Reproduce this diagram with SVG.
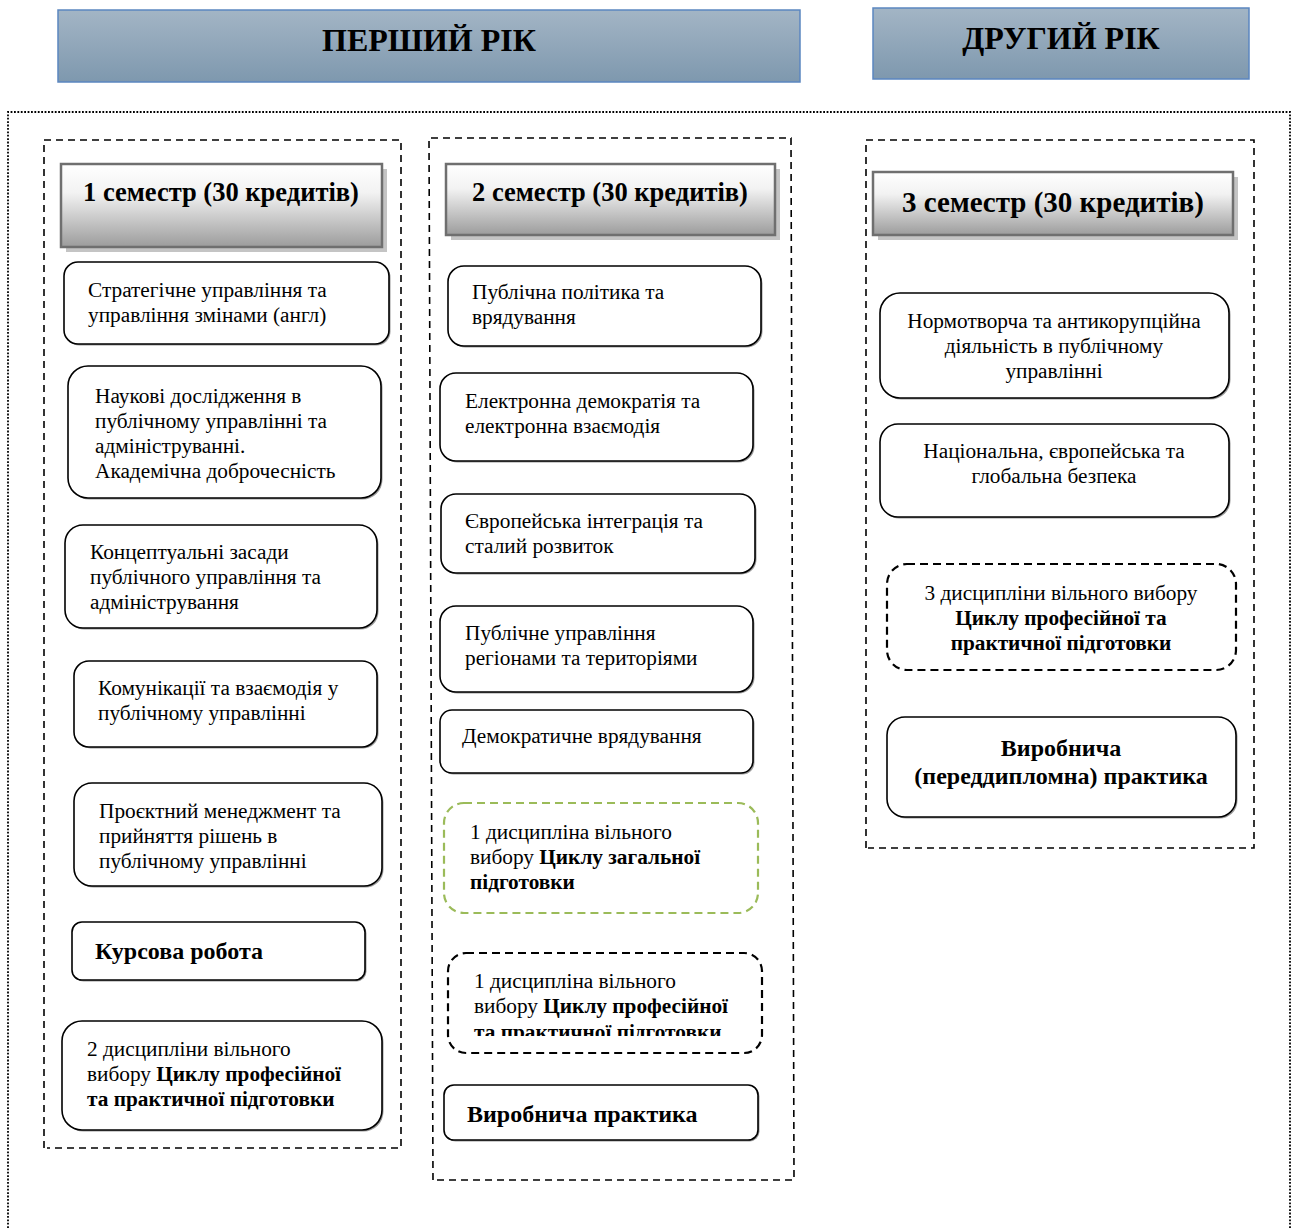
<svg xmlns="http://www.w3.org/2000/svg" width="1295" height="1228" viewBox="0 0 1295 1228">
<defs>
<linearGradient id="gYear" x1="0" y1="0" x2="0" y2="1">
<stop offset="0" stop-color="#a3b5c5"/>
<stop offset="1" stop-color="#7e98ae"/>
</linearGradient>
<linearGradient id="gSem" x1="0" y1="0" x2="0" y2="1">
<stop offset="0" stop-color="#ffffff"/>
<stop offset="0.35" stop-color="#f2f2f2"/>
<stop offset="1" stop-color="#9c9c9c"/>
</linearGradient>
<clipPath id="clipP2"><rect x="448" y="955" width="314" height="81"/></clipPath>
<style>
text{font-family:"Liberation Serif","Times New Roman",serif;fill:#000}
.year{fill:url(#gYear);stroke:#5b86c0;stroke-width:1.5}
.yt{font-size:32px;font-weight:bold;text-anchor:middle}
.sem{fill:url(#gSem);stroke:#6f6f6f;stroke-width:2.5}
.semsh{fill:#c4c4c4}
.st{font-size:26.5px;font-weight:bold;text-anchor:middle}
.outer{fill:none;stroke:#000;stroke-width:1.8;stroke-dasharray:1.8 1.6}
.cont{fill:none;stroke:#000;stroke-width:1.6;stroke-dasharray:7 5}
.box{fill:#fff;stroke:#000;stroke-width:1.6}
.bsh{fill:#9a9a9a}
.dbox{fill:#fff;stroke:#000;stroke-width:2.2;stroke-dasharray:8 5}
.gbox{fill:#fff;stroke:#9bbb59;stroke-width:2.2;stroke-dasharray:8 5}
.t{font-size:21.3px}
.c{text-anchor:middle}
.b{font-weight:bold}
.bt{font-size:24px;font-weight:bold}
</style>
</defs>

<g id="year1">
<rect class="year" x="58" y="10" width="742" height="72"/>
<text class="yt" x="429" y="51">ПЕРШИЙ РІК</text>
</g>
<g id="year2">
<rect class="year" x="873" y="8" width="376" height="71"/>
<text class="yt" x="1061" y="49">ДРУГИЙ РІК</text>
</g>

<g id="frames">
<path class="outer" d="M8 1228 V112 H1290 V1228"/>
<path class="cont" d="M44 1148 V140 H401 V1148 H47"/>
<path class="cont" d="M433 1180 L429 138 H791 L794 1180 H436"/>
<path class="cont" d="M866 848 V140 H1254 V848 H868"/>
</g>

<g id="sem1-header">
<rect class="semsh" x="66" y="169" width="321" height="83"/>
<rect class="sem" x="61" y="164" width="321" height="83"/>
<text class="st" x="221" y="201">1 семестр (30 кредитів)</text>
</g>
<g id="sem2-header">
<rect class="semsh" x="451" y="169" width="329" height="71"/>
<rect class="sem" x="446" y="164" width="329" height="71"/>
<text class="st" x="610" y="201">2 семестр (30 кредитів)</text>
</g>
<g id="sem3-header">
<rect class="semsh" x="878" y="177" width="360" height="63"/>
<rect class="sem" x="873" y="172" width="360" height="63"/>
<text class="st" x="1053" y="212" style="font-size:29px">3 семестр (30 кредитів)</text>
</g>

<g id="s1-b1">
<rect class="bsh" x="65.5" y="263.5" width="325" height="82" rx="14"/>
<rect class="box" x="64" y="262" width="325" height="82" rx="14"/>
<text class="t" x="88"><tspan x="88" y="297">Стратегічне управління та</tspan><tspan x="88" y="322">управління змінами (англ)</tspan></text>
</g>
<g id="s1-b2">
<rect class="bsh" x="69.5" y="367.5" width="313" height="132" rx="20"/>
<rect class="box" x="68" y="366" width="313" height="132" rx="20"/>
<text class="t"><tspan x="95" y="403">Наукові дослідження в</tspan><tspan x="95" y="428">публічному управлінні та</tspan><tspan x="95" y="453">адмініструванні.</tspan><tspan x="95" y="478">Академічна доброчесність</tspan></text>
</g>
<g id="s1-b3">
<rect class="bsh" x="66.5" y="526.5" width="312" height="103" rx="18"/>
<rect class="box" x="65" y="525" width="312" height="103" rx="18"/>
<text class="t"><tspan x="90" y="559">Концептуальні засади</tspan><tspan x="90" y="584">публічного управління та</tspan><tspan x="90" y="609">адміністрування</tspan></text>
</g>
<g id="s1-b4">
<rect class="bsh" x="75.5" y="662.5" width="303" height="86" rx="15"/>
<rect class="box" x="74" y="661" width="303" height="86" rx="15"/>
<text class="t"><tspan x="98" y="695">Комунікації та взаємодія у</tspan><tspan x="98" y="720">публічному управлінні</tspan></text>
</g>
<g id="s1-b5">
<rect class="bsh" x="75.5" y="784.5" width="308" height="103" rx="18"/>
<rect class="box" x="74" y="783" width="308" height="103" rx="18"/>
<text class="t"><tspan x="99" y="818">Проєктний менеджмент та</tspan><tspan x="99" y="843">прийняття рішень в</tspan><tspan x="99" y="868">публічному управлінні</tspan></text>
</g>
<g id="s1-b6">
<rect class="bsh" x="73.5" y="923.5" width="293" height="58" rx="10"/>
<rect class="box" x="72" y="922" width="293" height="58" rx="10"/>
<text class="bt" x="95" y="959">Курсова робота</text>
</g>
<g id="s1-b7">
<rect class="bsh" x="63.5" y="1022.5" width="320" height="109" rx="20"/>
<rect class="box" x="62" y="1021" width="320" height="109" rx="20"/>
<text class="t"><tspan x="87" y="1056">2 дисципліни вільного</tspan><tspan x="87" y="1081">вибору <tspan class="b">Циклу професійної</tspan></tspan><tspan x="87" y="1106" class="b">та практичної підготовки</tspan></text>
</g>

<g id="s2-b1">
<rect class="bsh" x="449.5" y="267.5" width="313" height="80" rx="16"/>
<rect class="box" x="448" y="266" width="313" height="80" rx="16"/>
<text class="t"><tspan x="472" y="299">Публічна політика та</tspan><tspan x="472" y="324">врядування</tspan></text>
</g>
<g id="s2-b2">
<rect class="bsh" x="441.5" y="374.5" width="313" height="88" rx="16"/>
<rect class="box" x="440" y="373" width="313" height="88" rx="16"/>
<text class="t"><tspan x="465" y="408">Електронна демократія та</tspan><tspan x="465" y="433">електронна взаємодія</tspan></text>
</g>
<g id="s2-b3">
<rect class="bsh" x="442.5" y="495.5" width="314" height="79" rx="15"/>
<rect class="box" x="441" y="494" width="314" height="79" rx="15"/>
<text class="t"><tspan x="465" y="528">Європейська інтеграція та</tspan><tspan x="465" y="553">сталий розвиток</tspan></text>
</g>
<g id="s2-b4">
<rect class="bsh" x="441.5" y="607.5" width="313" height="86" rx="16"/>
<rect class="box" x="440" y="606" width="313" height="86" rx="16"/>
<text class="t"><tspan x="465" y="640">Публічне управління</tspan><tspan x="465" y="665">регіонами та територіями</tspan></text>
</g>
<g id="s2-b5">
<rect class="bsh" x="441.5" y="711.5" width="313" height="63" rx="12"/>
<rect class="box" x="440" y="710" width="313" height="63" rx="12"/>
<text class="t" x="462" y="743">Демократичне врядування</text>
</g>
<g id="s2-b6">
<rect class="gbox" x="444" y="803" width="314" height="110" rx="20"/>
<text class="t"><tspan x="470" y="839">1 дисципліна вільного</tspan><tspan x="470" y="864">вибору <tspan class="b">Циклу загальної</tspan></tspan><tspan x="470" y="889" class="b">підготовки</tspan></text>
</g>
<g id="s2-b7">
<rect class="dbox" x="448" y="953" width="314" height="100" rx="18"/>
<text class="t" clip-path="url(#clipP2)"><tspan x="474" y="988">1 дисципліна вільного</tspan><tspan x="474" y="1013">вибору <tspan class="b">Циклу професійної</tspan></tspan><tspan x="474" y="1039" class="b">та практичної підготовки</tspan></text>
</g>
<g id="s2-b8">
<rect class="bsh" x="445.5" y="1086.5" width="314" height="55" rx="10"/>
<rect class="box" x="444" y="1085" width="314" height="55" rx="10"/>
<text class="bt" x="467" y="1122">Виробнича практика</text>
</g>

<g id="s3-b1">
<rect class="bsh" x="881.5" y="294.5" width="349" height="105" rx="20"/>
<rect class="box" x="880" y="293" width="349" height="105" rx="20"/>
<text class="t c"><tspan x="1054" y="328">Нормотворча та антикорупційна</tspan><tspan x="1054" y="353">діяльність в публічному</tspan><tspan x="1054" y="378">управлінні</tspan></text>
</g>
<g id="s3-b2">
<rect class="bsh" x="881.5" y="425.5" width="349" height="93" rx="18"/>
<rect class="box" x="880" y="424" width="349" height="93" rx="18"/>
<text class="t c"><tspan x="1054" y="458">Національна, європейська та</tspan><tspan x="1054" y="483">глобальна безпека</tspan></text>
</g>
<g id="s3-b3">
<rect class="dbox" x="887" y="564" width="349" height="106" rx="20"/>
<text class="t c"><tspan x="1061" y="600">3 дисципліни вільного вибору</tspan><tspan x="1061" y="625" class="b">Циклу професійної та</tspan><tspan x="1061" y="650" class="b">практичної підготовки</tspan></text>
</g>
<g id="s3-b4">
<rect class="bsh" x="888.5" y="718.5" width="349" height="100" rx="18"/>
<rect class="box" x="887" y="717" width="349" height="100" rx="18"/>
<text class="bt c"><tspan x="1061" y="756">Виробнича</tspan><tspan x="1061" y="784">(переддипломна) практика</tspan></text>
</g>

<g id="connectors"></g>
</svg>
